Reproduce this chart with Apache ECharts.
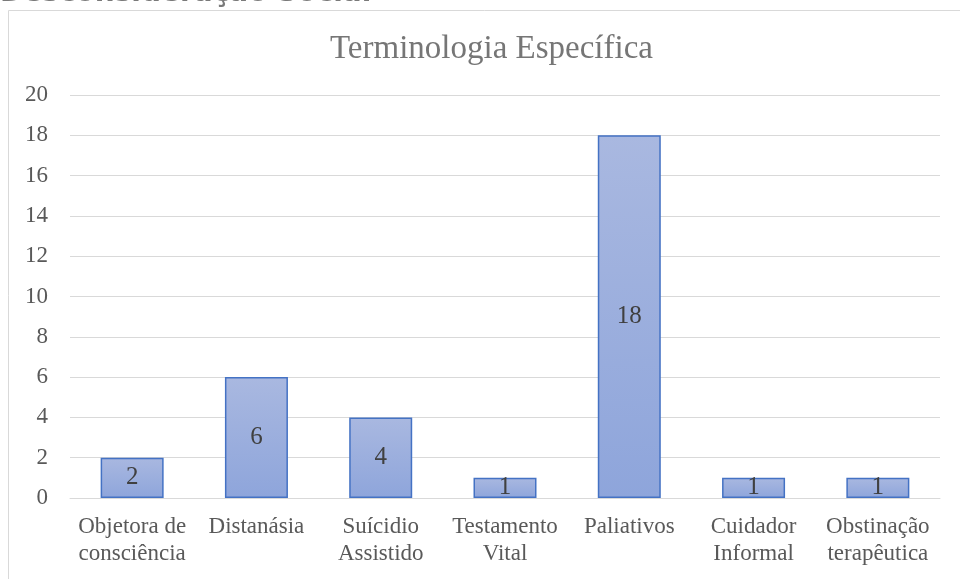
<!DOCTYPE html>
<html>
<head>
<meta charset="utf-8">
<script src="https://cdn.jsdelivr.net/npm/echarts@6/dist/echarts.min.js"></script>
<style>
  html, body { margin: 0; padding: 0; background: #fff; }
  #chart { width: 960px; height: 579px; }
</style>
</head>
<body>
<div id="chart"></div>
<script>
const categories = ['Objetora de\nconsciência', 'Distanásia', 'Suícidio\nAssistido', 'Testamento\nVital', 'Paliativos', 'Cuidador\nInformal', 'Obstinação\nterapêutica'];
const values = [2, 6, 4, 1, 18, 1, 1];
const yTicks = [0, 2, 4, 6, 8, 10, 12, 14, 16, 18, 20];

var myChart = echarts.init(document.getElementById('chart'));
var serif = '"Liberation Serif", "DejaVu Serif", serif';
var option = {
    animation: false,
    title: {
        text: 'Terminologia Específica',
        left: 325,
        top: 28,
        textStyle: { fontFamily: serif, fontSize: 33, fontWeight: 'normal', color: '#767676' }
    },
    graphic: [
        {
            type: 'rect',
            shape: { x: 8.5, y: 10.5, width: 1000, height: 700 },
            style: { fill: 'none', stroke: '#d9d9d9', lineWidth: 1 },
            silent: true
        },
        {
            type: 'text',
            left: 0,
            top: -20,
            style: {
                text: 'Desconsideração Social',
                font: 'bold 28px "DejaVu Sans", sans-serif',
                fill: '#7a7a7a'
            }
        }
    ],
    grid: { left: 70, right: 20, top: 95, bottom: 81 },
    xAxis: {
        type: 'category',
        data: categories,
        axisLine: { lineStyle: { color: '#d9d9d9' } },
        axisTick: { show: false },
        axisLabel: { fontFamily: serif, fontSize: 23, color: '#595959', lineHeight: 27, margin: 15, interval: 0 }
    },
    yAxis: {
        type: 'value',
        min: yTicks[0],
        max: yTicks[yTicks.length - 1],
        interval: 2,
        splitLine: { lineStyle: { color: '#d9d9d9' } },
        axisLabel: { fontFamily: serif, fontSize: 23, color: '#595959', margin: 22 }
    },
    series: [{
        type: 'bar',
        data: values,
        barWidth: 63,
        itemStyle: {
            color: new echarts.graphic.LinearGradient(0, 0, 0, 1, [
                { offset: 0, color: '#a9b8e0' },
                { offset: 1, color: '#8ea5db' }
            ]),
            borderColor: '#4472c4',
            borderWidth: 1.5
        },
        label: {
            show: true,
            position: 'inside',
            fontFamily: serif,
            fontSize: 25,
            color: '#404040'
        }
    }]
};
myChart.setOption(option);
window.addEventListener('resize', function () {
    myChart.resize();
});
</script>
</body>
</html>
